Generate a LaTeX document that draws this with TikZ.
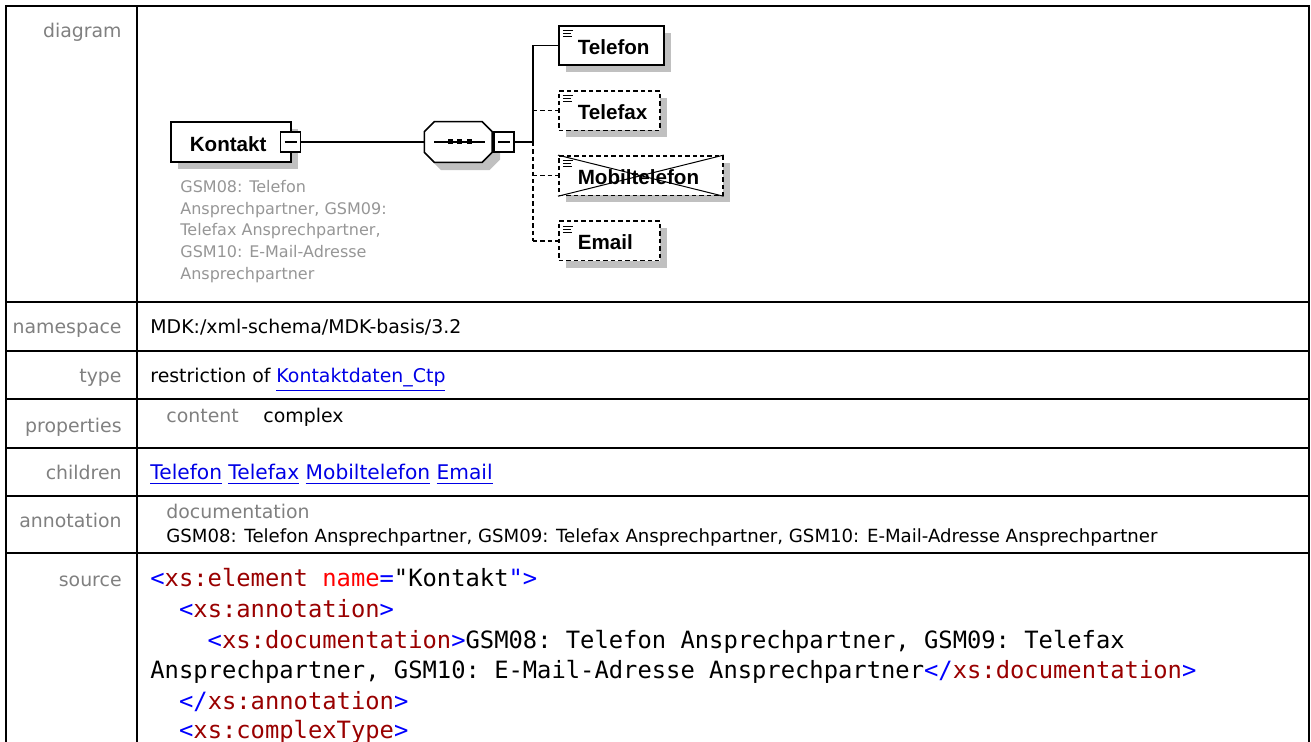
\documentclass[tikz,border=0pt]{standalone}
\usepackage{fontspec}
\setmainfont{DejaVu Sans}
\setmonofont{DejaVu Sans Mono}
\newfontfamily\boxfont{Liberation Sans}
\usepackage{xcolor}
\usetikzlibrary{positioning, shadows}

\definecolor{labelgray}{RGB}{128,128,128}
\definecolor{notegray}{RGB}{150,150,150}
\definecolor{shadowgray}{RGB}{192,192,192}
\definecolor{linkblue}{RGB}{0,0,230}
\definecolor{tagblue}{RGB}{0,0,255}
\definecolor{tagred}{RGB}{153,0,0}
\definecolor{attrred}{RGB}{255,0,0}

\newcommand{\lnk}[1]{\textcolor{linkblue}{\underline{#1}}}
\newcommand{\brk}[1]{\textcolor{tagblue}{#1}}
\newcommand{\tagn}[1]{\textcolor{tagred}{#1}}
\newcommand{\attn}[1]{\textcolor{attrred}{#1}}

\tikzset{
  rule/.style={line width=1pt},
  wire/.style={line width=0.8pt},
  opt/.style={dash pattern=on 2.2pt off 1.5pt},
  elbox/.style={draw, fill=white, line width=0.8pt, minimum height=19.75pt,
    text height=9.2pt, text depth=0pt, inner xsep=9.5pt, text width=#1, align=left,
    font=\boxfont\bfseries\fontsize{10.3}{12}\selectfont,
    drop shadow={shadow xshift=3.5pt, shadow yshift=-3.5pt, fill=shadowgray, opacity=1}},
  kid/.style={elbox=#1, path picture={
    \foreach \l/\dy in {5pt/2.5pt, 4pt/4pt, 4.5pt/5.5pt}
      \draw[solid, line width=0.5pt] ([shift={(2pt,-\dy)}]path picture bounding box.north west) -- ++(\l,0pt);}},
  minusbox/.style={draw, fill=white, line width=0.8pt, minimum size=10pt, inner sep=0pt,
    path picture={\draw[line width=0.6pt] ([xshift=2pt]path picture bounding box.west) -- ([xshift=-2pt]path picture bounding box.east);}},
  seqbox/.style={minimum width=33.5pt, minimum height=20pt, inner sep=0pt},
  note/.style={text=notegray, align=left, inner sep=0pt, font=\fontsize{8}{10.85}\selectfont},
  lbl/.style={anchor=base east, text=labelgray, inner sep=0pt, font=\fontsize{9.45}{11}\selectfont},
  txt/.style={anchor=base west, inner sep=0pt, font=\fontsize{9.45}{11}\selectfont},
  code/.style={anchor=base west, inner sep=0pt, font=\ttfamily\fontsize{11.9}{14}\selectfont}
}

\begin{document}
\begin{tikzpicture}[x=0.5pt, y=-0.5pt, line cap=butt, line join=miter]
    \useasboundingbox (0,0) rectangle (1311,742);

    % Table frame
    \draw[rule] (6,742) -- (6,6) -- (1309,6) -- (1309,742);
    \draw[rule] (137,6) -- (137,742);
    \foreach \y in {302, 351, 399, 448, 496, 553}{
        \draw[rule] (6,\y) -- (1309,\y);
    }

    % Row labels
    \node[lbl] (lblDiagram) at (122,38) {diagram};
    \node[lbl] (lblNamespace) at (122,334) {namespace};
    \node[lbl] (lblType) at (122,383) {type};
    \node[lbl] (lblProps) at (122,433) {properties};
    \node[lbl] (lblChildren) at (122,480) {children};
    \node[lbl] (lblAnno) at (122,528) {annotation};
    \node[lbl] (lblSource) at (122,586) {source};

    % Element Kontakt
    \node[elbox=41pt, anchor=west] (kontakt) at (170,142) {Kontakt};
    \node[minusbox] (kontaktMinus) at ([xshift=-0.5pt]kontakt.east) {};
    \node[note, anchor=north west] (kontaktNote) at (180,180)
        {GSM08: Telefon\\Ansprechpartner, GSM09:\\Telefax Ansprechpartner,\\GSM10: E-Mail-Adresse\\Ansprechpartner};

    % Sequence compositor
    \node[seqbox, right=61.5pt of kontaktMinus] (seq) {};
    \foreach \s/\f/\d in {3.5pt/shadowgray/shadowgray, 0pt/white/black}{
        \filldraw[fill=\f, draw=\d, line width=0.8pt]
            ([shift={(5pt+\s,-\s)}]seq.north west) -- ([shift={(-5pt+\s,-\s)}]seq.north east)
            -- ([shift={(\s,-5pt-\s)}]seq.north east) -- ([shift={(\s,5pt-\s)}]seq.south east)
            -- ([shift={(-5pt+\s,-\s)}]seq.south east) -- ([shift={(5pt+\s,-\s)}]seq.south west)
            -- ([shift={(\s,5pt-\s)}]seq.south west) -- ([shift={(\s,-5pt-\s)}]seq.north west) -- cycle;
    }
    \draw[wire] ([xshift=5pt]seq.west) -- ([xshift=-3.5pt]seq.east);
    \foreach \d in {-3.75pt, 0.75pt, 5.75pt}{
        \fill ([xshift=\d]seq.center) ++(-1.25pt,-1.25pt) rectangle ++(2.5pt,2.5pt);
    }
    \node[minusbox, right=0.5pt of seq] (seqMinus) {};
    \coordinate (fork) at ([xshift=9pt]seqMinus.east);

    % Children
    \node[kid=33.5pt, anchor=west] (telefon) at (558,45.5) {Telefon};
    \node[kid=31.5pt, opt, below=12pt of telefon.south west, anchor=north west] (telefax) {Telefax};
    \node[kid=63pt, opt, below=12pt of telefax.south west, anchor=north west] (mobil) {Mobiltelefon};
    \node[kid=31.5pt, opt, below=12pt of mobil.south west, anchor=north west] (email) {Email};
    \draw[line width=0.5pt] (mobil.north west) -- (mobil.south east)
        (mobil.south west) -- (mobil.north east);

    % Connectors
    \draw[wire] (kontaktMinus.east) -- (seq.west);
    \draw[wire] (seqMinus.east) -- (fork);
    \draw[wire] (fork) |- (telefon.west);
    \draw[wire, opt] (fork) -- (fork |- email.west);
    \foreach \k in {telefax, mobil, email}{
        \draw[wire, opt] (fork |- \k.west) -- (\k.west);
    }

    % Table entries
    \node[txt] (nsValue) at (150,334) {MDK:/xml-schema/MDK-basis/3.2};
    \node[txt] (typeValue) at (150,383) {restriction of \lnk{Kontaktdaten\_Ctp}};
    \node[txt, text=labelgray] (propKey) at (166,423) {content};
    \node[txt] (propValue) at (263,423) {complex};
    \node[txt, font=\fontsize{10.1}{12}\selectfont] (childList) at (150,480) {\lnk{Telefon} \lnk{Telefax} \lnk{Mobiltelefon} \lnk{Email}};
    \node[txt, text=labelgray] (docKey) at (166,518) {documentation};
    \node[txt, font=\fontsize{9.07}{11}\selectfont] (docValue) at (166,543) {GSM08: Telefon Ansprechpartner, GSM09: Telefax Ansprechpartner, GSM10: E-Mail-Adresse Ansprechpartner};

    % Source listing
    \node[code] (src1) at (150,587) {\brk{<}\tagn{xs:element} \attn{name}\brk{=}"Kontakt\brk{"}\brk{>}};
    \node[code] (src2) at (178.7,617.5) {\brk{<}\tagn{xs:annotation}\brk{>}};
    \node[code] (src3) at (207.3,648) {\brk{<}\tagn{xs:documentation}\brk{>}GSM08: Telefon Ansprechpartner, GSM09: Telefax};
    \node[code] (src4) at (150,678.5) {Ansprechpartner, GSM10: E-Mail-Adresse Ansprechpartner\brk{</}\tagn{xs:documentation}\brk{>}};
    \node[code] (src5) at (178.7,709) {\brk{</}\tagn{xs:annotation}\brk{>}};
    \node[code] (src6) at (178.7,738.5) {\brk{<}\tagn{xs:complexType}\brk{>}};

\end{tikzpicture}
\end{document}
